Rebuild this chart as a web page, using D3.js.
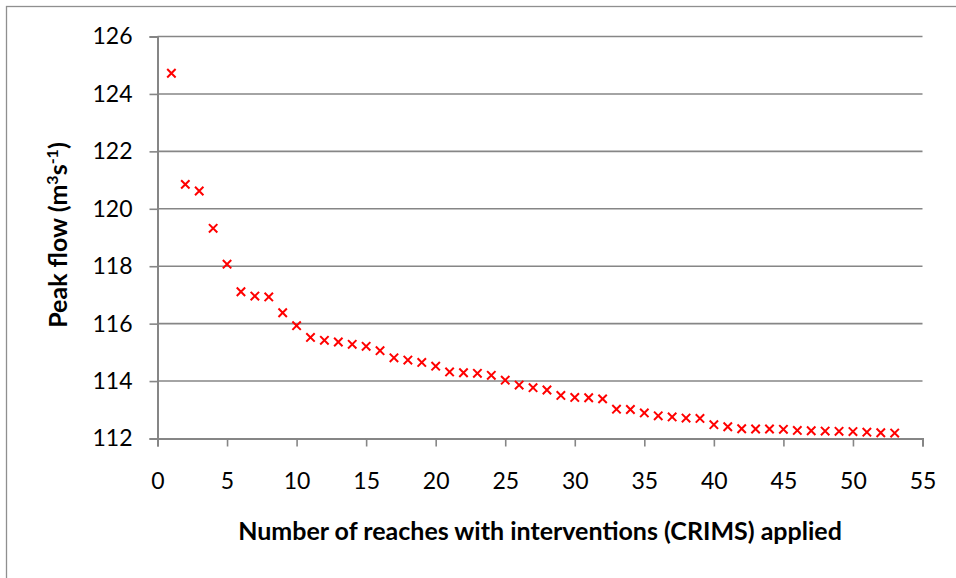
<!DOCTYPE html>
<html>
<head>
<meta charset="utf-8">
<script src="https://cdn.jsdelivr.net/npm/d3@7"></script>
<style>
  html, body { margin: 0; padding: 0; background: #ffffff; }
  svg { display: block; }
  text { font-family: Lato, "Open Sans", "DejaVu Sans", sans-serif; fill: #000; }
</style>
</head>
<body>
<svg id="chart" width="956" height="578"></svg>
<script>
// Number of reaches with CRIMS interventions applied
const reaches = [1, 2, 3, 4, 5, 6, 7, 8, 9, 10,
  11, 12, 13, 14, 15, 16, 17, 18, 19, 20,
  21, 22, 23, 24, 25, 26, 27, 28, 29, 30,
  31, 32, 33, 34, 35, 36, 37, 38, 39, 40,
  41, 42, 43, 44, 45, 46, 47, 48, 49, 50,
  51, 52, 53];

// Resulting peak flow (m3/s)
const peakFlow = [124.72, 120.85, 120.62, 119.32, 118.07, 117.11, 116.96, 116.93, 116.38, 115.93,
  115.52, 115.42, 115.36, 115.28, 115.21, 115.06, 114.81, 114.73, 114.65, 114.52,
  114.32, 114.29, 114.27, 114.20, 114.03, 113.86, 113.77, 113.69, 113.50, 113.43,
  113.42, 113.38, 113.02, 113.01, 112.89, 112.79, 112.75, 112.71, 112.70, 112.48,
  112.41, 112.34, 112.33, 112.33, 112.32, 112.28, 112.27, 112.26, 112.25, 112.24,
  112.22, 112.20, 112.19];

const xTicks = [0, 5, 10, 15, 20, 25, 30, 35, 40, 45, 50, 55];
const yTicks = [112, 114, 116, 118, 120, 122, 124, 126];

const xTitle = "Number of reaches with interventions (CRIMS) applied";

const svg = d3.select("#chart");
const gridColor = "#868686";

// Outer chart frame (runs off the right and bottom edges)
svg.append("rect")
  .attr("x", 6.5).attr("y", 6.5)
  .attr("width", 1000).attr("height", 1000)
  .attr("fill", "none")
  .attr("stroke", "#8f8f8f")
  .attr("stroke-width", 1.3);

const x = d3.scaleLinear().domain([0, 55]).range([157.5, 922.5]);
const y = d3.scaleLinear().domain([112, 126]).range([438.5, 36.5]);

// Horizontal gridlines
svg.append("g")
  .selectAll("line")
  .data(yTicks.filter(v => v !== 112))
  .join("line")
  .attr("x1", x(0)).attr("x2", x(55))
  .attr("y1", d => y(d)).attr("y2", d => y(d))
  .attr("stroke", gridColor)
  .attr("stroke-width", 1.6);

// Y axis
const yAxis = svg.append("g")
  .attr("transform", `translate(${x(0)},0)`)
  .call(d3.axisLeft(y).tickValues(yTicks).tickSize(8).tickPadding(17).tickFormat(d3.format("d")));
yAxis.select(".domain").attr("stroke", gridColor).attr("stroke-width", 2);
yAxis.selectAll(".tick line").attr("stroke", gridColor).attr("stroke-width", 1.6);
yAxis.selectAll(".tick text")
  .attr("font-family", "Lato, 'Open Sans', sans-serif")
  .attr("font-size", 23)
  .attr("fill", "#000");

// X axis
const xAxis = svg.append("g")
  .attr("transform", `translate(0,${y(112)})`)
  .call(d3.axisBottom(x).tickValues(xTicks).tickSize(8).tickPadding(26).tickFormat(d3.format("d")));
xAxis.select(".domain").attr("stroke", gridColor).attr("stroke-width", 2);
xAxis.selectAll(".tick line").attr("stroke", gridColor).attr("stroke-width", 1.6);
xAxis.selectAll(".tick text")
  .attr("font-family", "Lato, 'Open Sans', sans-serif")
  .attr("font-size", 23)
  .attr("fill", "#000");

// Data markers: red crosses
const r = 4.2;
svg.append("g")
  .selectAll("path")
  .data(reaches.map((d, i) => [d, peakFlow[i]]))
  .join("path")
  .attr("d", d => {
    const cx = x(d[0]), cy = y(d[1]);
    return `M${cx - r},${cy - r}L${cx + r},${cy + r}M${cx - r},${cy + r}L${cx + r},${cy - r}`;
  })
  .attr("stroke", "#ff0000")
  .attr("stroke-width", 2)
  .attr("fill", "none");

// X axis title
svg.append("text")
  .attr("x", 540).attr("y", 540)
  .attr("text-anchor", "middle")
  .attr("font-size", 25)
  .attr("font-weight", "bold")
  .text(xTitle);

// Y axis title with superscripts
const yt = svg.append("text")
  .attr("transform", "translate(67,235) rotate(-90)")
  .attr("text-anchor", "middle")
  .attr("font-size", 25)
  .attr("font-weight", "bold");
yt.append("tspan").text("Peak flow (m");
yt.append("tspan").attr("font-size", 16).attr("dy", -9).text("3");
yt.append("tspan").attr("dy", 9).text("s");
yt.append("tspan").attr("font-size", 16).attr("dy", -9).text("-1");
yt.append("tspan").attr("dy", 9).text(")");
</script>
</body>
</html>
